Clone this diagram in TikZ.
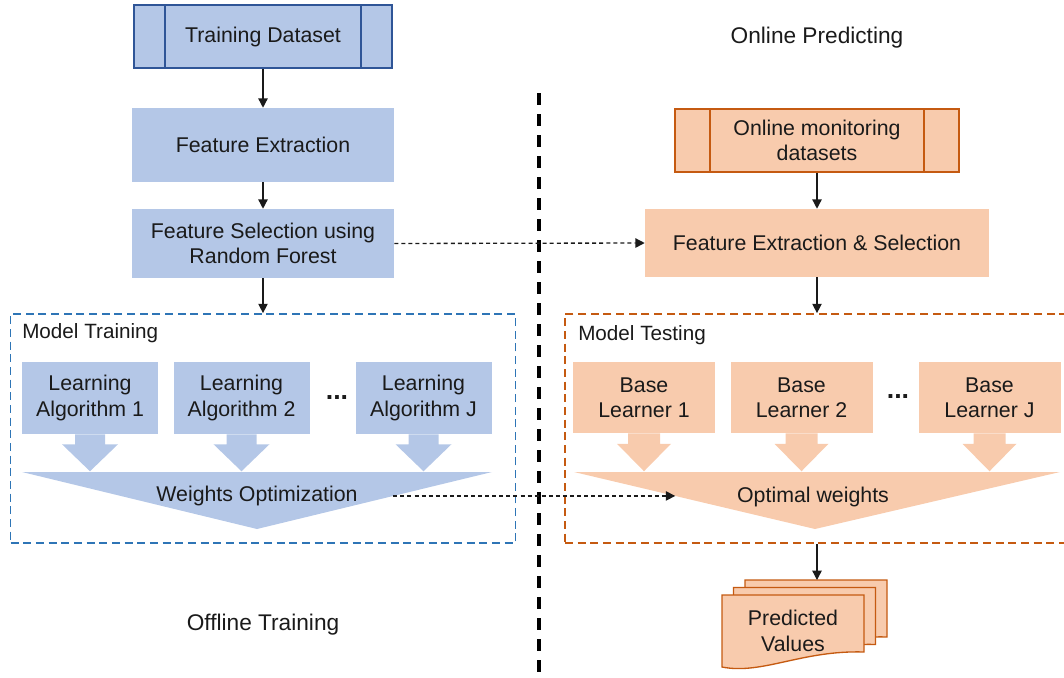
\documentclass[tikz,border=0pt]{standalone}
\usepackage{fontspec}
\setmainfont{Liberation Sans}
\usetikzlibrary{arrows.meta,calc}
\definecolor{bluefill}{HTML}{B4C7E7}
\definecolor{blueline}{HTML}{2F5597}
\definecolor{bluedash}{HTML}{2E75B6}
\definecolor{orangefill}{HTML}{F8CBAD}
\definecolor{orangeline}{HTML}{C55A11}
\definecolor{ink}{HTML}{1A1A1A}
\begin{document}
\begin{tikzpicture}[x=0.75pt,y=-0.75pt,
  txt/.style={font=\fontsize{16}{19}\selectfont, text=ink, align=center, inner sep=0pt},
  heading/.style={font=\fontsize{17}{20}\selectfont, text=ink, inner sep=0pt},
  grouplabel/.style={font=\fontsize{15.5}{18}\selectfont, text=ink, inner sep=0pt, anchor=west},
  bluebox/.style={txt, fill=bluefill},
  orangebox/.style={txt, fill=orangefill},
  bluedata/.style={bluebox, draw=blueline, line width=1.3pt},
  orangedata/.style={orangebox, draw=orangeline, line width=1.3pt},
  arr/.style={-{Triangle[length=7pt,width=7pt]}, line width=1pt, draw=ink},
  dasharr/.style={arr, dash pattern=on 3pt off 2.3pt},
  groupbox/.style={inner sep=0pt, dash pattern=on 6pt off 3.5pt, line width=1.3pt},
  divider/.style={draw=black, line width=2.3pt, dash pattern=on 9pt off 6.75pt},
  dots/.style={font=\bfseries\fontsize{20}{24}\selectfont, text=ink, inner sep=0pt}
]
\useasboundingbox (0,0) rectangle (1064,678);

% ---------------- offline training (left) ----------------
\node[bluedata, minimum width=193.5pt, minimum height=47.25pt] (td) at (263,36.5) {Training Dataset};
\draw[blueline, line width=1pt] ($(td.north west)+(32,0)$) -- ($(td.south west)+(32,0)$);
\draw[blueline, line width=1pt] ($(td.north east)+(-32,0)$) -- ($(td.south east)+(-32,0)$);

\node[bluebox, minimum width=196.5pt, minimum height=55.5pt] (fe) at (263,145) {Feature Extraction};
\node[bluebox, minimum width=196.5pt, minimum height=51.75pt] (fs) at (263,243.5) {Feature Selection using\\Random Forest};

\node[groupbox, draw=bluedash, minimum width=378.75pt, minimum height=171.75pt] (mtrain) at (263,428.5) {};
\node[grouplabel] (mtrainlbl) at (22,333) {Model Training};

\node[bluebox, minimum width=102pt, minimum height=54pt] (la1) at (90,398) {Learning\\Algorithm 1};
\node[bluebox, minimum width=102pt, minimum height=54pt] (la2) at (241.5,398) {Learning\\Algorithm 2};
\node[bluebox, minimum width=102pt, minimum height=54pt] (laJ) at (423.5,398) {Learning\\Algorithm J};
\node[dots] (dotsL) at (337,398) {...};

\foreach \n in {la1,la2,laJ}
  \fill[bluefill] ($(\n.south)+(-15,0)$) -- ($(\n.south)+(15,0)$) -- ($(\n.south)+(15,10)$)
    -- ($(\n.south)+(28,10)$) -- ($(\n.south)+(0,37)$) -- ($(\n.south)+(-28,10)$)
    -- ($(\n.south)+(-15,10)$) -- cycle;

\coordinate (wa) at (22,472);
\coordinate (wb) at (492,472);
\coordinate (wc) at (257,529);
\fill[bluefill] (wa) -- (wb) -- (wc) -- cycle;
\node[txt] (wopt) at (257,496) {Weights Optimization};

\node[heading] (offline) at (263,625) {Offline Training};

% ---------------- online predicting (right) ----------------
\node[heading] (online) at (817,38) {Online Predicting};

\node[orangedata, minimum width=213pt, minimum height=47.25pt] (omd) at (817,140.5) {Online monitoring\\datasets};
\draw[orangeline, line width=1pt] ($(omd.north west)+(36,0)$) -- ($(omd.south west)+(36,0)$);
\draw[orangeline, line width=1pt] ($(omd.north east)+(-36,0)$) -- ($(omd.south east)+(-36,0)$);

\node[orangebox, minimum width=258pt, minimum height=51pt] (fes) at (817,243) {Feature Extraction \& Selection};

\node[groupbox, draw=orangeline, minimum width=378pt, minimum height=171.75pt] (mtest) at (817,428.5) {};
\node[grouplabel] (mtestlbl) at (578,335) {Model Testing};

\node[orangebox, minimum width=106.5pt, minimum height=53.25pt] (bl1) at (644,397.5) {Base\\Learner 1};
\node[orangebox, minimum width=106.5pt, minimum height=53.25pt] (bl2) at (801.5,397.5) {Base\\Learner 2};
\node[orangebox, minimum width=106.5pt, minimum height=53.25pt] (blJ) at (989.5,397.5) {Base\\Learner J};
\node[dots] (dotsR) at (898,397) {...};

\foreach \n in {bl1,bl2,blJ}
  \fill[orangefill] ($(\n.south)+(-16,0)$) -- ($(\n.south)+(16,0)$) -- ($(\n.south)+(16,10.5)$)
    -- ($(\n.south)+(27,10.5)$) -- ($(\n.south)+(0,38)$) -- ($(\n.south)+(-27,10.5)$)
    -- ($(\n.south)+(-16,10.5)$) -- cycle;

\coordinate (oa) at (574,472);
\coordinate (ob) at (1060,472);
\coordinate (oc) at (815,529);
\fill[orangefill] (oa) -- (ob) -- (oc) -- cycle;
\node[txt] (optw) at (813,497) {Optimal weights};

% stacked output documents
\foreach \dx/\dy in {23/-15, 11.5/-7.5, 0/0}
  \filldraw[fill=orangefill, draw=orangeline, line width=1pt, shift={({722+\dx},{595+\dy})}]
    (0,0) -- (142,0) -- (142,57) .. controls (80,55) and (40,80) .. (0,72) -- cycle;
\node[txt] (pv) at (793,631) {Predicted\\Values};
\coordinate (pvtop) at (817,580);

% ---------------- divider ----------------
\coordinate (divtop) at (539,93);
\coordinate (divbot) at (539,682);
\draw[divider] (divtop) -- (divbot);

% ---------------- connectors ----------------
\draw[arr] (td.south) -- (fe.north);
\draw[arr] (fe.south) -- (fs.north);
\draw[arr] (fs.south) -- (mtrain.north);
\draw[arr] (omd.south) -- (fes.north);
\draw[arr] (fes.south) -- (mtest.north);
\draw[arr] (mtest.south) -- (pvtop);
\draw[dasharr] (fs.east) -- (fes.west);
\draw[dasharr] ($(wb)!0.42!(wc)$) -- ($(oa)!0.42!(oc)$);
\end{tikzpicture}
\end{document}
